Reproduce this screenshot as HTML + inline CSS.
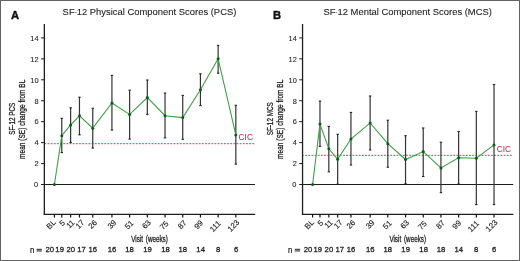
<!DOCTYPE html>
<html><head><meta charset="utf-8"><style>
html,body{margin:0;padding:0;background:#fff;}
body{width:520px;height:261px;overflow:hidden;}
svg{display:block;will-change:transform;font-family:"Liberation Sans", sans-serif;}
</style></head><body>
<svg width="520" height="261" viewBox="0 0 520 261">
<rect x="0" y="0" width="520" height="261" fill="#fff"/>
<g transform="translate(0,0)">
<text x="11" y="18.5" font-size="11.2" font-weight="bold" fill="#111" stroke="#111" stroke-width="0.4">A</text>
<g transform="translate(149.5,15) scale(0.962,1)"><text x="0" y="0" font-size="9.8" text-anchor="middle" fill="#1e1e1e" stroke="#1e1e1e" stroke-width="0.1">SF<tspan font-size="6.2" dy="-1.5">-</tspan><tspan dy="1.5">12 Physical Component Scores (PCS)</tspan></text></g>
<g transform="translate(14.7,118.8) rotate(-90) scale(0.66,1)"><text x="0" y="0" font-size="9.6" text-anchor="middle" fill="#1e1e1e" stroke="#1e1e1e" stroke-width="0.3">SF-12 PCS</text></g>
<g transform="translate(24.9,119.3) rotate(-90) scale(0.6825,1)"><text x="0" y="0" font-size="9.6" text-anchor="middle" fill="#1e1e1e" stroke="#1e1e1e" stroke-width="0.3">mean (SE) change from BL</text></g>
<line x1="41" y1="184.50" x2="44.5" y2="184.50" stroke="#1e1e1e" stroke-width="1"/>
<text x="38.2" y="187.30" font-size="7.4" text-anchor="end" fill="#1e1e1e" stroke="#1e1e1e" stroke-width="0.08">0</text>
<line x1="41" y1="163.56" x2="44.5" y2="163.56" stroke="#1e1e1e" stroke-width="1"/>
<text x="38.6" y="166.36" font-size="7.4" text-anchor="end" fill="#1e1e1e" stroke="#1e1e1e" stroke-width="0.08">2</text>
<line x1="41" y1="142.62" x2="44.5" y2="142.62" stroke="#1e1e1e" stroke-width="1"/>
<text x="38.6" y="145.42" font-size="7.4" text-anchor="end" fill="#1e1e1e" stroke="#1e1e1e" stroke-width="0.08">4</text>
<line x1="41" y1="121.68" x2="44.5" y2="121.68" stroke="#1e1e1e" stroke-width="1"/>
<text x="38.6" y="124.48" font-size="7.4" text-anchor="end" fill="#1e1e1e" stroke="#1e1e1e" stroke-width="0.08">6</text>
<line x1="41" y1="100.74" x2="44.5" y2="100.74" stroke="#1e1e1e" stroke-width="1"/>
<text x="38.6" y="103.54" font-size="7.4" text-anchor="end" fill="#1e1e1e" stroke="#1e1e1e" stroke-width="0.08">8</text>
<line x1="41" y1="79.80" x2="44.5" y2="79.80" stroke="#1e1e1e" stroke-width="1"/>
<text x="38.6" y="82.60" font-size="7.4" text-anchor="end" fill="#1e1e1e" stroke="#1e1e1e" stroke-width="0.08">10</text>
<line x1="41" y1="58.86" x2="44.5" y2="58.86" stroke="#1e1e1e" stroke-width="1"/>
<text x="38.6" y="61.66" font-size="7.4" text-anchor="end" fill="#1e1e1e" stroke="#1e1e1e" stroke-width="0.08">12</text>
<line x1="41" y1="37.92" x2="44.5" y2="37.92" stroke="#1e1e1e" stroke-width="1"/>
<text x="38.6" y="40.72" font-size="7.4" text-anchor="end" fill="#1e1e1e" stroke="#1e1e1e" stroke-width="0.08">14</text>
<line x1="44" y1="184.5" x2="255" y2="184.5" stroke="#1e1e1e" stroke-width="1"/>
<line x1="45" y1="143.7" x2="255" y2="143.7" stroke="#c42c44" stroke-width="0.9" stroke-dasharray="1.85 1.3" stroke-dashoffset="0.6"/>
<text x="238.5" y="140.1" font-size="8.4" fill="#b8283c">CIC</text>
<line x1="61.77" y1="118.3" x2="61.77" y2="152.6" stroke="#333" stroke-width="1.2"/>
<line x1="60.57" y1="118.3" x2="62.98" y2="118.3" stroke="#222" stroke-width="1.1"/>
<line x1="60.57" y1="152.6" x2="62.98" y2="152.6" stroke="#222" stroke-width="1.1"/>
<line x1="70.62" y1="107.8" x2="70.62" y2="142.5" stroke="#333" stroke-width="1.2"/>
<line x1="69.42" y1="107.8" x2="71.83" y2="107.8" stroke="#222" stroke-width="1.1"/>
<line x1="69.42" y1="142.5" x2="71.83" y2="142.5" stroke="#222" stroke-width="1.1"/>
<line x1="79.47" y1="97.2" x2="79.47" y2="134.8" stroke="#333" stroke-width="1.2"/>
<line x1="78.27" y1="97.2" x2="80.67" y2="97.2" stroke="#222" stroke-width="1.1"/>
<line x1="78.27" y1="134.8" x2="80.67" y2="134.8" stroke="#222" stroke-width="1.1"/>
<line x1="92.75" y1="108.3" x2="92.75" y2="148.1" stroke="#333" stroke-width="1.2"/>
<line x1="91.55" y1="108.3" x2="93.95" y2="108.3" stroke="#222" stroke-width="1.1"/>
<line x1="91.55" y1="148.1" x2="93.95" y2="148.1" stroke="#222" stroke-width="1.1"/>
<line x1="111.93" y1="75.4" x2="111.93" y2="130.1" stroke="#333" stroke-width="1.2"/>
<line x1="110.73" y1="75.4" x2="113.13" y2="75.4" stroke="#222" stroke-width="1.1"/>
<line x1="110.73" y1="130.1" x2="113.13" y2="130.1" stroke="#222" stroke-width="1.1"/>
<line x1="129.62" y1="90.2" x2="129.62" y2="139.1" stroke="#333" stroke-width="1.2"/>
<line x1="128.43" y1="90.2" x2="130.82" y2="90.2" stroke="#222" stroke-width="1.1"/>
<line x1="128.43" y1="139.1" x2="130.82" y2="139.1" stroke="#222" stroke-width="1.1"/>
<line x1="147.33" y1="80.0" x2="147.33" y2="114.4" stroke="#333" stroke-width="1.2"/>
<line x1="146.13" y1="80.0" x2="148.53" y2="80.0" stroke="#222" stroke-width="1.1"/>
<line x1="146.13" y1="114.4" x2="148.53" y2="114.4" stroke="#222" stroke-width="1.1"/>
<line x1="165.03" y1="93.0" x2="165.03" y2="137.9" stroke="#333" stroke-width="1.2"/>
<line x1="163.83" y1="93.0" x2="166.22" y2="93.0" stroke="#222" stroke-width="1.1"/>
<line x1="163.83" y1="137.9" x2="166.22" y2="137.9" stroke="#222" stroke-width="1.1"/>
<line x1="182.73" y1="95.4" x2="182.73" y2="139.3" stroke="#333" stroke-width="1.2"/>
<line x1="181.53" y1="95.4" x2="183.93" y2="95.4" stroke="#222" stroke-width="1.1"/>
<line x1="181.53" y1="139.3" x2="183.93" y2="139.3" stroke="#222" stroke-width="1.1"/>
<line x1="200.43" y1="73.8" x2="200.43" y2="105.6" stroke="#333" stroke-width="1.2"/>
<line x1="199.23" y1="73.8" x2="201.62" y2="73.8" stroke="#222" stroke-width="1.1"/>
<line x1="199.23" y1="105.6" x2="201.62" y2="105.6" stroke="#222" stroke-width="1.1"/>
<line x1="218.13" y1="45.4" x2="218.13" y2="73.2" stroke="#333" stroke-width="1.2"/>
<line x1="216.93" y1="45.4" x2="219.33" y2="45.4" stroke="#222" stroke-width="1.1"/>
<line x1="216.93" y1="73.2" x2="219.33" y2="73.2" stroke="#222" stroke-width="1.1"/>
<line x1="235.83" y1="105.3" x2="235.83" y2="164.1" stroke="#333" stroke-width="1.2"/>
<line x1="234.63" y1="105.3" x2="237.03" y2="105.3" stroke="#222" stroke-width="1.1"/>
<line x1="234.63" y1="164.1" x2="237.03" y2="164.1" stroke="#222" stroke-width="1.1"/>
<polyline points="54.40,184.5 61.77,135.7 70.62,124.9 79.47,115.8 92.75,128.2 111.93,103.0 129.62,114.4 147.33,97.5 165.03,115.7 182.73,117.6 200.43,89.7 218.13,58.7 235.83,134.9" fill="none" stroke="#3f9f46" stroke-width="1.1"/>
<circle cx="54.40" cy="184.5" r="1.5" fill="#14561f"/>
<circle cx="61.77" cy="135.7" r="1.5" fill="#14561f"/>
<circle cx="70.62" cy="124.9" r="1.5" fill="#14561f"/>
<circle cx="79.47" cy="115.8" r="1.5" fill="#14561f"/>
<circle cx="92.75" cy="128.2" r="1.5" fill="#14561f"/>
<circle cx="111.93" cy="103.0" r="1.5" fill="#14561f"/>
<circle cx="129.62" cy="114.4" r="1.5" fill="#14561f"/>
<circle cx="147.33" cy="97.5" r="1.5" fill="#14561f"/>
<circle cx="165.03" cy="115.7" r="1.5" fill="#14561f"/>
<circle cx="182.73" cy="117.6" r="1.5" fill="#14561f"/>
<circle cx="200.43" cy="89.7" r="1.5" fill="#14561f"/>
<circle cx="218.13" cy="58.7" r="1.5" fill="#14561f"/>
<circle cx="235.83" cy="134.9" r="1.5" fill="#14561f"/>
<line x1="44.35" y1="24" x2="44.35" y2="215" stroke="#1e1e1e" stroke-width="1.3"/>
<line x1="43.7" y1="214.35" x2="255.2" y2="214.35" stroke="#1e1e1e" stroke-width="1.3"/>
<line x1="54.40" y1="214" x2="54.40" y2="217.5" stroke="#111" stroke-width="1.2"/>
<text transform="translate(56.30,223.05) rotate(-45)" font-size="7.8" text-anchor="end" fill="#1e1e1e" stroke="#1e1e1e" stroke-width="0.15">BL</text>
<line x1="61.77" y1="214" x2="61.77" y2="217.5" stroke="#111" stroke-width="1.2"/>
<text transform="translate(65.68,223.55) rotate(-45)" font-size="7.8" text-anchor="end" fill="#1e1e1e" stroke="#1e1e1e" stroke-width="0.15">5</text>
<line x1="70.62" y1="214" x2="70.62" y2="217.5" stroke="#111" stroke-width="1.2"/>
<text transform="translate(75.12,223.15) rotate(-45)" font-size="7.8" text-anchor="end" fill="#1e1e1e" stroke="#1e1e1e" stroke-width="0.15">11</text>
<line x1="79.47" y1="214" x2="79.47" y2="217.5" stroke="#111" stroke-width="1.2"/>
<text transform="translate(84.88,223.00) rotate(-45)" font-size="7.8" text-anchor="end" fill="#1e1e1e" stroke="#1e1e1e" stroke-width="0.15">17</text>
<line x1="92.75" y1="214" x2="92.75" y2="217.5" stroke="#111" stroke-width="1.2"/>
<text transform="translate(97.65,223.15) rotate(-45)" font-size="7.8" text-anchor="end" fill="#1e1e1e" stroke="#1e1e1e" stroke-width="0.15">26</text>
<line x1="111.93" y1="214" x2="111.93" y2="217.5" stroke="#111" stroke-width="1.2"/>
<text transform="translate(116.93,223.20) rotate(-45)" font-size="7.8" text-anchor="end" fill="#1e1e1e" stroke="#1e1e1e" stroke-width="0.15">39</text>
<line x1="129.62" y1="214" x2="129.62" y2="217.5" stroke="#111" stroke-width="1.2"/>
<text transform="translate(134.03,223.60) rotate(-45)" font-size="7.8" text-anchor="end" fill="#1e1e1e" stroke="#1e1e1e" stroke-width="0.15">51</text>
<line x1="147.33" y1="214" x2="147.33" y2="217.5" stroke="#111" stroke-width="1.2"/>
<text transform="translate(151.43,223.15) rotate(-45)" font-size="7.8" text-anchor="end" fill="#1e1e1e" stroke="#1e1e1e" stroke-width="0.15">63</text>
<line x1="165.03" y1="214" x2="165.03" y2="217.5" stroke="#111" stroke-width="1.2"/>
<text transform="translate(169.12,224.05) rotate(-45)" font-size="7.8" text-anchor="end" fill="#1e1e1e" stroke="#1e1e1e" stroke-width="0.15">75</text>
<line x1="182.73" y1="214" x2="182.73" y2="217.5" stroke="#111" stroke-width="1.2"/>
<text transform="translate(187.08,223.40) rotate(-45)" font-size="7.8" text-anchor="end" fill="#1e1e1e" stroke="#1e1e1e" stroke-width="0.15">87</text>
<line x1="200.43" y1="214" x2="200.43" y2="217.5" stroke="#111" stroke-width="1.2"/>
<text transform="translate(203.53,223.50) rotate(-45)" font-size="7.8" text-anchor="end" fill="#1e1e1e" stroke="#1e1e1e" stroke-width="0.15">99</text>
<line x1="218.13" y1="214" x2="218.13" y2="217.5" stroke="#111" stroke-width="1.2"/>
<text transform="translate(221.28,224.00) rotate(-45)" font-size="7.8" text-anchor="end" fill="#1e1e1e" stroke="#1e1e1e" stroke-width="0.15">111</text>
<line x1="235.83" y1="214" x2="235.83" y2="217.5" stroke="#111" stroke-width="1.2"/>
<text transform="translate(239.83,222.95) rotate(-45)" font-size="7.8" text-anchor="end" fill="#1e1e1e" stroke="#1e1e1e" stroke-width="0.15">123</text>
<g transform="translate(149.5,241.7) scale(0.70,1)"><text x="0" y="0" font-size="9" word-spacing="1.6" text-anchor="middle" fill="#1e1e1e" stroke="#1e1e1e" stroke-width="0.3">Visit (weeks)</text></g>
<g transform="translate(29.9,252.8) scale(0.95,1)"><text x="0" y="0" font-size="8.2" fill="#1e1e1e" stroke="#1e1e1e" stroke-width="0.2">n</text></g>
<rect x="36.6" y="248.8" width="5.3" height="1.1" fill="#333"/><rect x="36.6" y="250.4" width="5.3" height="1.1" fill="#333"/>
<g transform="translate(49.85,252.0) scale(0.95,1)"><text x="0" y="0" font-size="8.1" text-anchor="middle" fill="#1e1e1e" stroke="#1e1e1e" stroke-width="0.3">20</text></g>
<g transform="translate(59.65,252.0) scale(0.95,1)"><text x="0" y="0" font-size="8.1" text-anchor="middle" fill="#1e1e1e" stroke="#1e1e1e" stroke-width="0.3">19</text></g>
<g transform="translate(70.70,252.0) scale(0.95,1)"><text x="0" y="0" font-size="8.1" text-anchor="middle" fill="#1e1e1e" stroke="#1e1e1e" stroke-width="0.3">20</text></g>
<g transform="translate(81.55,252.0) scale(0.95,1)"><text x="0" y="0" font-size="8.1" text-anchor="middle" fill="#1e1e1e" stroke="#1e1e1e" stroke-width="0.3">17</text></g>
<g transform="translate(92.85,252.0) scale(0.95,1)"><text x="0" y="0" font-size="8.1" text-anchor="middle" fill="#1e1e1e" stroke="#1e1e1e" stroke-width="0.3">16</text></g>
<g transform="translate(112.10,252.0) scale(0.95,1)"><text x="0" y="0" font-size="8.1" text-anchor="middle" fill="#1e1e1e" stroke="#1e1e1e" stroke-width="0.3">16</text></g>
<g transform="translate(129.60,252.0) scale(0.95,1)"><text x="0" y="0" font-size="8.1" text-anchor="middle" fill="#1e1e1e" stroke="#1e1e1e" stroke-width="0.3">18</text></g>
<g transform="translate(147.45,252.0) scale(0.95,1)"><text x="0" y="0" font-size="8.1" text-anchor="middle" fill="#1e1e1e" stroke="#1e1e1e" stroke-width="0.3">19</text></g>
<g transform="translate(165.45,252.0) scale(0.95,1)"><text x="0" y="0" font-size="8.1" text-anchor="middle" fill="#1e1e1e" stroke="#1e1e1e" stroke-width="0.3">18</text></g>
<g transform="translate(182.75,252.0) scale(0.95,1)"><text x="0" y="0" font-size="8.1" text-anchor="middle" fill="#1e1e1e" stroke="#1e1e1e" stroke-width="0.3">18</text></g>
<g transform="translate(200.65,252.0) scale(0.95,1)"><text x="0" y="0" font-size="8.1" text-anchor="middle" fill="#1e1e1e" stroke="#1e1e1e" stroke-width="0.3">14</text></g>
<g transform="translate(218.05,252.0) scale(0.95,1)"><text x="0" y="0" font-size="8.1" text-anchor="middle" fill="#1e1e1e" stroke="#1e1e1e" stroke-width="0.3">8</text></g>
<g transform="translate(236.05,252.0) scale(0.95,1)"><text x="0" y="0" font-size="8.1" text-anchor="middle" fill="#1e1e1e" stroke="#1e1e1e" stroke-width="0.3">6</text></g>
</g>
<g transform="translate(258.2,0)">
<text x="14.8" y="18.5" font-size="11.2" font-weight="bold" fill="#111" stroke="#111" stroke-width="0.4">B</text>
<g transform="translate(149.5,15) scale(0.962,1)"><text x="0" y="0" font-size="9.8" text-anchor="middle" fill="#1e1e1e" stroke="#1e1e1e" stroke-width="0.1">SF<tspan font-size="6.2" dy="-1.5">-</tspan><tspan dy="1.5">12 Mental Component Scores (MCS)</tspan></text></g>
<g transform="translate(14.7,118.8) rotate(-90) scale(0.66,1)"><text x="0" y="0" font-size="9.6" text-anchor="middle" fill="#1e1e1e" stroke="#1e1e1e" stroke-width="0.3">SF-12 MCS</text></g>
<g transform="translate(24.9,119.3) rotate(-90) scale(0.6825,1)"><text x="0" y="0" font-size="9.6" text-anchor="middle" fill="#1e1e1e" stroke="#1e1e1e" stroke-width="0.3">mean (SE) change from BL</text></g>
<line x1="41" y1="184.50" x2="44.5" y2="184.50" stroke="#1e1e1e" stroke-width="1"/>
<text x="38.2" y="187.30" font-size="7.4" text-anchor="end" fill="#1e1e1e" stroke="#1e1e1e" stroke-width="0.08">0</text>
<line x1="41" y1="163.56" x2="44.5" y2="163.56" stroke="#1e1e1e" stroke-width="1"/>
<text x="38.6" y="166.36" font-size="7.4" text-anchor="end" fill="#1e1e1e" stroke="#1e1e1e" stroke-width="0.08">2</text>
<line x1="41" y1="142.62" x2="44.5" y2="142.62" stroke="#1e1e1e" stroke-width="1"/>
<text x="38.6" y="145.42" font-size="7.4" text-anchor="end" fill="#1e1e1e" stroke="#1e1e1e" stroke-width="0.08">4</text>
<line x1="41" y1="121.68" x2="44.5" y2="121.68" stroke="#1e1e1e" stroke-width="1"/>
<text x="38.6" y="124.48" font-size="7.4" text-anchor="end" fill="#1e1e1e" stroke="#1e1e1e" stroke-width="0.08">6</text>
<line x1="41" y1="100.74" x2="44.5" y2="100.74" stroke="#1e1e1e" stroke-width="1"/>
<text x="38.6" y="103.54" font-size="7.4" text-anchor="end" fill="#1e1e1e" stroke="#1e1e1e" stroke-width="0.08">8</text>
<line x1="41" y1="79.80" x2="44.5" y2="79.80" stroke="#1e1e1e" stroke-width="1"/>
<text x="38.6" y="82.60" font-size="7.4" text-anchor="end" fill="#1e1e1e" stroke="#1e1e1e" stroke-width="0.08">10</text>
<line x1="41" y1="58.86" x2="44.5" y2="58.86" stroke="#1e1e1e" stroke-width="1"/>
<text x="38.6" y="61.66" font-size="7.4" text-anchor="end" fill="#1e1e1e" stroke="#1e1e1e" stroke-width="0.08">12</text>
<line x1="41" y1="37.92" x2="44.5" y2="37.92" stroke="#1e1e1e" stroke-width="1"/>
<text x="38.6" y="40.72" font-size="7.4" text-anchor="end" fill="#1e1e1e" stroke="#1e1e1e" stroke-width="0.08">14</text>
<line x1="44" y1="184.5" x2="255" y2="184.5" stroke="#1e1e1e" stroke-width="1"/>
<line x1="45" y1="155.3" x2="255" y2="155.3" stroke="#c42c44" stroke-width="0.9" stroke-dasharray="1.85 1.3" stroke-dashoffset="1.15"/>
<text x="238.5" y="152.2" font-size="8.4" fill="#b8283c">CIC</text>
<line x1="61.77" y1="101.1" x2="61.77" y2="146.3" stroke="#333" stroke-width="1.2"/>
<line x1="60.57" y1="101.1" x2="62.98" y2="101.1" stroke="#222" stroke-width="1.1"/>
<line x1="60.57" y1="146.3" x2="62.98" y2="146.3" stroke="#222" stroke-width="1.1"/>
<line x1="70.62" y1="126.4" x2="70.62" y2="171.8" stroke="#333" stroke-width="1.2"/>
<line x1="69.42" y1="126.4" x2="71.83" y2="126.4" stroke="#222" stroke-width="1.1"/>
<line x1="69.42" y1="171.8" x2="71.83" y2="171.8" stroke="#222" stroke-width="1.1"/>
<line x1="79.47" y1="134.3" x2="79.47" y2="184.2" stroke="#333" stroke-width="1.2"/>
<line x1="78.27" y1="134.3" x2="80.67" y2="134.3" stroke="#222" stroke-width="1.1"/>
<line x1="78.27" y1="184.2" x2="80.67" y2="184.2" stroke="#222" stroke-width="1.1"/>
<line x1="92.75" y1="112.4" x2="92.75" y2="165.0" stroke="#333" stroke-width="1.2"/>
<line x1="91.55" y1="112.4" x2="93.95" y2="112.4" stroke="#222" stroke-width="1.1"/>
<line x1="91.55" y1="165.0" x2="93.95" y2="165.0" stroke="#222" stroke-width="1.1"/>
<line x1="111.93" y1="96.0" x2="111.93" y2="150.0" stroke="#333" stroke-width="1.2"/>
<line x1="110.73" y1="96.0" x2="113.13" y2="96.0" stroke="#222" stroke-width="1.1"/>
<line x1="110.73" y1="150.0" x2="113.13" y2="150.0" stroke="#222" stroke-width="1.1"/>
<line x1="129.62" y1="120.2" x2="129.62" y2="167.2" stroke="#333" stroke-width="1.2"/>
<line x1="128.43" y1="120.2" x2="130.82" y2="120.2" stroke="#222" stroke-width="1.1"/>
<line x1="128.43" y1="167.2" x2="130.82" y2="167.2" stroke="#222" stroke-width="1.1"/>
<line x1="147.33" y1="135.7" x2="147.33" y2="183.8" stroke="#333" stroke-width="1.2"/>
<line x1="146.13" y1="135.7" x2="148.53" y2="135.7" stroke="#222" stroke-width="1.1"/>
<line x1="146.13" y1="183.8" x2="148.53" y2="183.8" stroke="#222" stroke-width="1.1"/>
<line x1="165.03" y1="128.0" x2="165.03" y2="176.5" stroke="#333" stroke-width="1.2"/>
<line x1="163.83" y1="128.0" x2="166.22" y2="128.0" stroke="#222" stroke-width="1.1"/>
<line x1="163.83" y1="176.5" x2="166.22" y2="176.5" stroke="#222" stroke-width="1.1"/>
<line x1="182.73" y1="142.2" x2="182.73" y2="192.7" stroke="#333" stroke-width="1.2"/>
<line x1="181.53" y1="142.2" x2="183.93" y2="142.2" stroke="#222" stroke-width="1.1"/>
<line x1="181.53" y1="192.7" x2="183.93" y2="192.7" stroke="#222" stroke-width="1.1"/>
<line x1="200.43" y1="131.5" x2="200.43" y2="184.0" stroke="#333" stroke-width="1.2"/>
<line x1="199.23" y1="131.5" x2="201.62" y2="131.5" stroke="#222" stroke-width="1.1"/>
<line x1="199.23" y1="184.0" x2="201.62" y2="184.0" stroke="#222" stroke-width="1.1"/>
<line x1="218.13" y1="111.4" x2="218.13" y2="204.6" stroke="#333" stroke-width="1.2"/>
<line x1="216.93" y1="111.4" x2="219.33" y2="111.4" stroke="#222" stroke-width="1.1"/>
<line x1="216.93" y1="204.6" x2="219.33" y2="204.6" stroke="#222" stroke-width="1.1"/>
<line x1="235.83" y1="84.5" x2="235.83" y2="204.6" stroke="#333" stroke-width="1.2"/>
<line x1="234.63" y1="84.5" x2="237.03" y2="84.5" stroke="#222" stroke-width="1.1"/>
<line x1="234.63" y1="204.6" x2="237.03" y2="204.6" stroke="#222" stroke-width="1.1"/>
<polyline points="54.40,184.5 61.77,124.1 70.62,148.8 79.47,159.3 92.75,139.0 111.93,122.9 129.62,143.7 147.33,159.5 165.03,151.6 182.73,167.9 200.43,157.7 218.13,158.3 235.83,144.9" fill="none" stroke="#3f9f46" stroke-width="1.1"/>
<circle cx="54.40" cy="184.5" r="1.5" fill="#14561f"/>
<circle cx="61.77" cy="124.1" r="1.5" fill="#14561f"/>
<circle cx="70.62" cy="148.8" r="1.5" fill="#14561f"/>
<circle cx="79.47" cy="159.3" r="1.5" fill="#14561f"/>
<circle cx="92.75" cy="139.0" r="1.5" fill="#14561f"/>
<circle cx="111.93" cy="122.9" r="1.5" fill="#14561f"/>
<circle cx="129.62" cy="143.7" r="1.5" fill="#14561f"/>
<circle cx="147.33" cy="159.5" r="1.5" fill="#14561f"/>
<circle cx="165.03" cy="151.6" r="1.5" fill="#14561f"/>
<circle cx="182.73" cy="167.9" r="1.5" fill="#14561f"/>
<circle cx="200.43" cy="157.7" r="1.5" fill="#14561f"/>
<circle cx="218.13" cy="158.3" r="1.5" fill="#14561f"/>
<circle cx="235.83" cy="144.9" r="1.5" fill="#14561f"/>
<line x1="44.35" y1="24" x2="44.35" y2="215" stroke="#1e1e1e" stroke-width="1.3"/>
<line x1="43.7" y1="214.35" x2="255.2" y2="214.35" stroke="#1e1e1e" stroke-width="1.3"/>
<line x1="54.40" y1="214" x2="54.40" y2="217.5" stroke="#111" stroke-width="1.2"/>
<text transform="translate(56.30,223.05) rotate(-45)" font-size="7.8" text-anchor="end" fill="#1e1e1e" stroke="#1e1e1e" stroke-width="0.15">BL</text>
<line x1="61.77" y1="214" x2="61.77" y2="217.5" stroke="#111" stroke-width="1.2"/>
<text transform="translate(65.68,223.55) rotate(-45)" font-size="7.8" text-anchor="end" fill="#1e1e1e" stroke="#1e1e1e" stroke-width="0.15">5</text>
<line x1="70.62" y1="214" x2="70.62" y2="217.5" stroke="#111" stroke-width="1.2"/>
<text transform="translate(75.12,223.15) rotate(-45)" font-size="7.8" text-anchor="end" fill="#1e1e1e" stroke="#1e1e1e" stroke-width="0.15">11</text>
<line x1="79.47" y1="214" x2="79.47" y2="217.5" stroke="#111" stroke-width="1.2"/>
<text transform="translate(84.88,223.00) rotate(-45)" font-size="7.8" text-anchor="end" fill="#1e1e1e" stroke="#1e1e1e" stroke-width="0.15">17</text>
<line x1="92.75" y1="214" x2="92.75" y2="217.5" stroke="#111" stroke-width="1.2"/>
<text transform="translate(97.65,223.15) rotate(-45)" font-size="7.8" text-anchor="end" fill="#1e1e1e" stroke="#1e1e1e" stroke-width="0.15">26</text>
<line x1="111.93" y1="214" x2="111.93" y2="217.5" stroke="#111" stroke-width="1.2"/>
<text transform="translate(116.93,223.20) rotate(-45)" font-size="7.8" text-anchor="end" fill="#1e1e1e" stroke="#1e1e1e" stroke-width="0.15">39</text>
<line x1="129.62" y1="214" x2="129.62" y2="217.5" stroke="#111" stroke-width="1.2"/>
<text transform="translate(134.03,223.60) rotate(-45)" font-size="7.8" text-anchor="end" fill="#1e1e1e" stroke="#1e1e1e" stroke-width="0.15">51</text>
<line x1="147.33" y1="214" x2="147.33" y2="217.5" stroke="#111" stroke-width="1.2"/>
<text transform="translate(151.43,223.15) rotate(-45)" font-size="7.8" text-anchor="end" fill="#1e1e1e" stroke="#1e1e1e" stroke-width="0.15">63</text>
<line x1="165.03" y1="214" x2="165.03" y2="217.5" stroke="#111" stroke-width="1.2"/>
<text transform="translate(169.12,224.05) rotate(-45)" font-size="7.8" text-anchor="end" fill="#1e1e1e" stroke="#1e1e1e" stroke-width="0.15">75</text>
<line x1="182.73" y1="214" x2="182.73" y2="217.5" stroke="#111" stroke-width="1.2"/>
<text transform="translate(187.08,223.40) rotate(-45)" font-size="7.8" text-anchor="end" fill="#1e1e1e" stroke="#1e1e1e" stroke-width="0.15">87</text>
<line x1="200.43" y1="214" x2="200.43" y2="217.5" stroke="#111" stroke-width="1.2"/>
<text transform="translate(203.53,223.50) rotate(-45)" font-size="7.8" text-anchor="end" fill="#1e1e1e" stroke="#1e1e1e" stroke-width="0.15">99</text>
<line x1="218.13" y1="214" x2="218.13" y2="217.5" stroke="#111" stroke-width="1.2"/>
<text transform="translate(221.28,224.00) rotate(-45)" font-size="7.8" text-anchor="end" fill="#1e1e1e" stroke="#1e1e1e" stroke-width="0.15">111</text>
<line x1="235.83" y1="214" x2="235.83" y2="217.5" stroke="#111" stroke-width="1.2"/>
<text transform="translate(239.83,222.95) rotate(-45)" font-size="7.8" text-anchor="end" fill="#1e1e1e" stroke="#1e1e1e" stroke-width="0.15">123</text>
<g transform="translate(149.5,241.7) scale(0.70,1)"><text x="0" y="0" font-size="9" word-spacing="1.6" text-anchor="middle" fill="#1e1e1e" stroke="#1e1e1e" stroke-width="0.3">Visit (weeks)</text></g>
<g transform="translate(29.9,252.8) scale(0.95,1)"><text x="0" y="0" font-size="8.2" fill="#1e1e1e" stroke="#1e1e1e" stroke-width="0.2">n</text></g>
<rect x="36.6" y="248.8" width="5.3" height="1.1" fill="#333"/><rect x="36.6" y="250.4" width="5.3" height="1.1" fill="#333"/>
<g transform="translate(49.85,252.0) scale(0.95,1)"><text x="0" y="0" font-size="8.1" text-anchor="middle" fill="#1e1e1e" stroke="#1e1e1e" stroke-width="0.3">20</text></g>
<g transform="translate(59.65,252.0) scale(0.95,1)"><text x="0" y="0" font-size="8.1" text-anchor="middle" fill="#1e1e1e" stroke="#1e1e1e" stroke-width="0.3">19</text></g>
<g transform="translate(70.70,252.0) scale(0.95,1)"><text x="0" y="0" font-size="8.1" text-anchor="middle" fill="#1e1e1e" stroke="#1e1e1e" stroke-width="0.3">20</text></g>
<g transform="translate(81.55,252.0) scale(0.95,1)"><text x="0" y="0" font-size="8.1" text-anchor="middle" fill="#1e1e1e" stroke="#1e1e1e" stroke-width="0.3">17</text></g>
<g transform="translate(92.85,252.0) scale(0.95,1)"><text x="0" y="0" font-size="8.1" text-anchor="middle" fill="#1e1e1e" stroke="#1e1e1e" stroke-width="0.3">16</text></g>
<g transform="translate(112.10,252.0) scale(0.95,1)"><text x="0" y="0" font-size="8.1" text-anchor="middle" fill="#1e1e1e" stroke="#1e1e1e" stroke-width="0.3">16</text></g>
<g transform="translate(129.60,252.0) scale(0.95,1)"><text x="0" y="0" font-size="8.1" text-anchor="middle" fill="#1e1e1e" stroke="#1e1e1e" stroke-width="0.3">18</text></g>
<g transform="translate(147.45,252.0) scale(0.95,1)"><text x="0" y="0" font-size="8.1" text-anchor="middle" fill="#1e1e1e" stroke="#1e1e1e" stroke-width="0.3">19</text></g>
<g transform="translate(165.45,252.0) scale(0.95,1)"><text x="0" y="0" font-size="8.1" text-anchor="middle" fill="#1e1e1e" stroke="#1e1e1e" stroke-width="0.3">18</text></g>
<g transform="translate(182.75,252.0) scale(0.95,1)"><text x="0" y="0" font-size="8.1" text-anchor="middle" fill="#1e1e1e" stroke="#1e1e1e" stroke-width="0.3">18</text></g>
<g transform="translate(200.65,252.0) scale(0.95,1)"><text x="0" y="0" font-size="8.1" text-anchor="middle" fill="#1e1e1e" stroke="#1e1e1e" stroke-width="0.3">14</text></g>
<g transform="translate(218.05,252.0) scale(0.95,1)"><text x="0" y="0" font-size="8.1" text-anchor="middle" fill="#1e1e1e" stroke="#1e1e1e" stroke-width="0.3">8</text></g>
<g transform="translate(236.05,252.0) scale(0.95,1)"><text x="0" y="0" font-size="8.1" text-anchor="middle" fill="#1e1e1e" stroke="#1e1e1e" stroke-width="0.3">6</text></g>
</g>
<rect x="0.5" y="0.5" width="519" height="260" fill="none" stroke="#646464" stroke-width="1"/>
</svg>
</body></html>
